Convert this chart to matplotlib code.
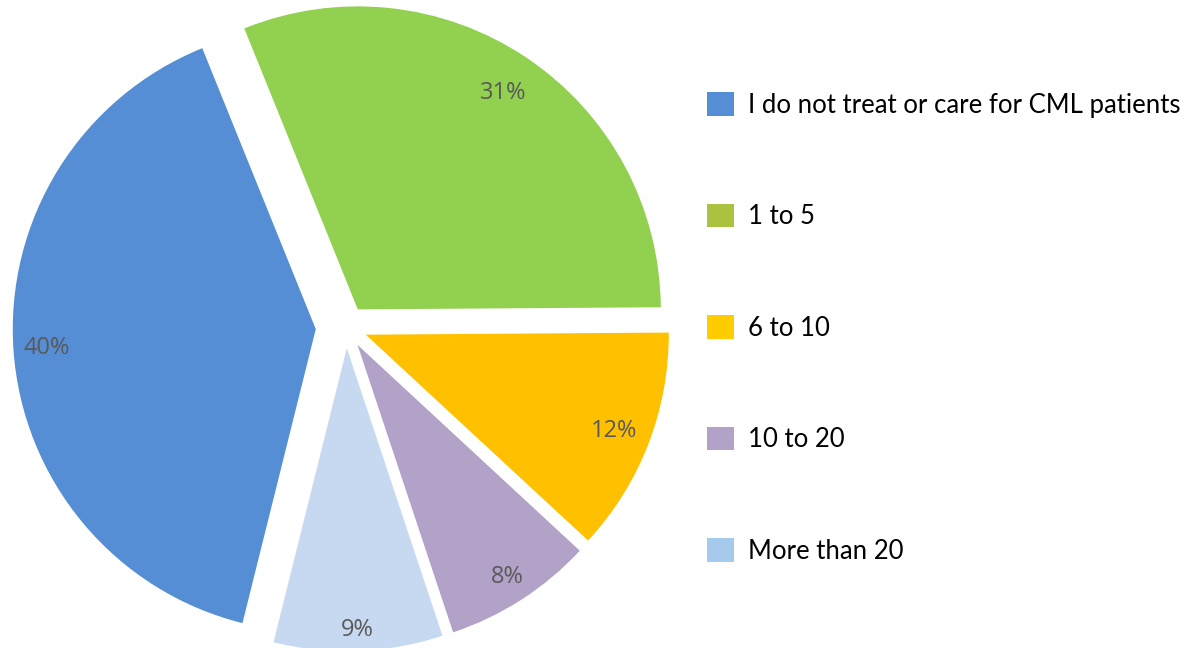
import numpy as np
import matplotlib.pyplot as plt
from matplotlib.patches import Patch

# Data
labels = ["I do not treat or care for CML patients", "1 to 5", "6 to 10", "10 to 20", "More than 20"]
values = [40, 31, 12, 8, 9]
pie_colors = ["#558ED5", "#92D050", "#FFC000", "#B3A2C7", "#C6D9F1"]
legend_colors = ["#558ED5", "#A9C23F", "#FFCC00", "#B3A2C7", "#A6CAEC"]
explode = [0.10, 0.07, 0.07, 0.07, 0.07]
pct_dist = [0.89, 0.86, 0.88, 0.91, 0.93]

W, H = 1199, 648
fig = plt.figure(figsize=(W / 100, H / 100), dpi=100)

# pie center at (346, 327) px from top, radius 303 px
r = 303
lim = 1.2
size = 2 * lim * r
cx, cy = 346, H - 327
ax = fig.add_axes([(cx - size / 2) / W, (cy - size / 2) / H, size / W, size / H])
ax.axis("off")

wedges, texts, autotexts = ax.pie(
    values, colors=pie_colors, explode=explode, startangle=256,
    counterclock=False, autopct="%d%%", pctdistance=0.88,
    textprops=dict(color="#595959", fontsize=17, family="Open Sans"),
)
# move each percent label along its wedge's middle
for w, t, d in zip(wedges, autotexts, pct_dist):
    a = np.deg2rad((w.theta1 + w.theta2) / 2)
    t.set_position((w.center[0] + d * w.r * np.cos(a), w.center[1] + d * w.r * np.sin(a)))
ax.set_xlim(-lim, lim)
ax.set_ylim(-lim, lim)

handles = [Patch(facecolor=c, edgecolor="none") for c in legend_colors]
fig.legend(handles, labels, loc="upper left", bbox_to_anchor=(707 / W, 1 - 92 / H),
           frameon=False, prop=dict(family="Lato", size=18.5),
           handlelength=1.05, handleheight=1.05, handletextpad=0.55,
           labelspacing=3.34, borderpad=0, borderaxespad=0)

fig.savefig("out.png", dpi=100)
